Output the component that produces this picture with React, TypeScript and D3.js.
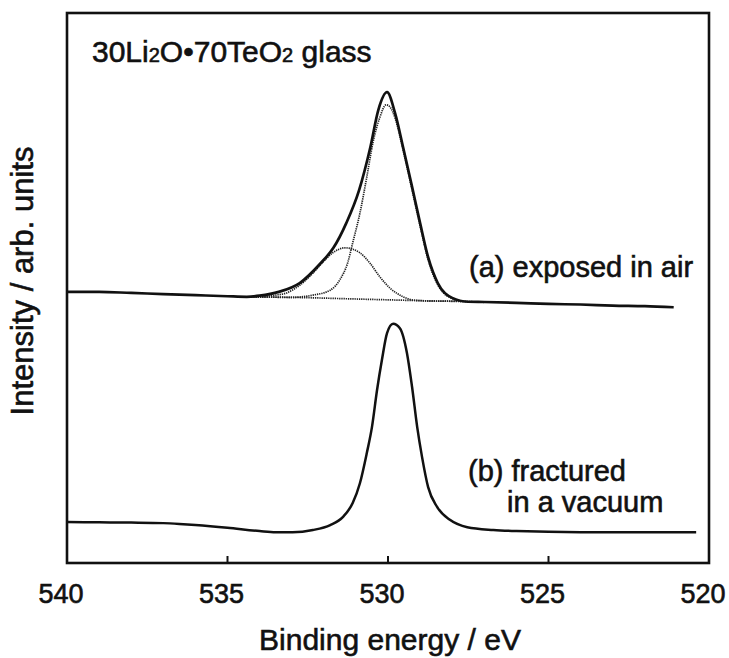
import React, { useEffect, useRef } from "react";
import * as d3 from "d3";

// binding energy (eV) / intensity (arb.)
const sumAirE = [540, 539, 538, 537, 536, 535, 534.4, 534, 533.4, 532.75, 532.1, 531.7, 531.3, 530.9, 530.55, 530.3, 530.03, 529.78, 529.53, 529.25, 529, 528.75, 528.45, 528, 527.5, 527, 526, 525, 524, 523, 522, 521.1];
const sumAirI = [49.3, 49.3, 49.1, 48.9, 48.7, 48.5, 48.4, 48.6, 49.3, 50.9, 54.5, 57.3, 61.8, 67.8, 75.6, 82.4, 85.6, 81.8, 75.6, 68.4, 61.8, 55.6, 50.9, 48.2, 47.5, 47.45, 47.3, 47.1, 47.0, 46.8, 46.7, 46.5];

const peak1E = [534.4, 533, 532.34, 531.8, 531.5, 531.25, 531.1, 530.875, 530.66, 530.47, 530.25, 530.06, 529.95, 529.78, 529.53, 529.25, 529, 528.75, 528.44, 527.97, 527.5, 527];
const peak1I = [48.4, 48.3, 48.7, 49.6, 51.5, 54.7, 58.2, 63.6, 70.2, 76.4, 81.1, 83.3, 83.0, 80.9, 75.1, 67.8, 61.3, 55.1, 50.5, 48.0, 47.5, 47.4];

const peak2E = [534.4, 534, 533.5, 533.16, 532.75, 532.34, 532.03, 531.72, 531.34, 530.875, 530.56, 530.25, 529.94, 529.53, 529.2, 528.5, 528, 527];
const peak2I = [48.4, 48.4, 48.7, 49.1, 50.5, 52.7, 54.7, 56.4, 57.3, 56.4, 54.5, 52.0, 50.0, 48.4, 47.8, 47.6, 47.6, 47.4];

const bgE = [534.4, 533, 531, 529, 527.5, 527];
const bgI = [48.4, 48.3, 48.0, 47.7, 47.5, 47.4];

const vacE = [540, 539, 538, 537, 536.5, 536, 535, 534, 533.5, 532.97, 532.34, 531.8, 531.4, 531.1, 530.875, 530.66, 530.5, 530.34, 530.19, 530.03, 529.84, 529.63, 529.41, 529.25, 529.09, 528.94, 528.75, 528.47, 528.06, 527.53, 526.72, 526, 524, 522, 520.4];
const vacI = [7.45, 7.4, 7.35, 7.25, 7.1, 6.9, 6.4, 5.8, 5.6, 5.6, 6.0, 6.9, 8.4, 10.9, 14.5, 20.0, 24.7, 31.5, 36.9, 41.8, 43.5, 42.7, 38.2, 32.0, 24.7, 19.3, 13.8, 10.2, 7.8, 6.5, 6.0, 5.8, 5.6, 5.6, 5.6];

const xTicks = [540, 535, 530, 525, 520];
const FONT = "'Liberation Sans', Arial, Helvetica, sans-serif";

const App = () => {
  const ref = useRef<SVGSVGElement | null>(null);

  useEffect(() => {
    if (!ref.current) return;
    const svg = d3.select(ref.current);
    svg.selectAll("*").remove();

    const x = d3.scaleLinear().domain([540, 520]).range([67, 709]);
    const y = d3.scaleLinear().domain([0, 100]).range([563, 13]);

    const line = d3
      .line<[number, number]>()
      .x(d => x(d[0]))
      .y(d => y(d[1]))
      .curve(d3.curveMonotoneX);

    const zip = (e: number[], v: number[]) => e.map((d, i) => [d, v[i]] as [number, number]);

    // frame
    svg
      .append("rect")
      .attr("x", x(540))
      .attr("y", y(100))
      .attr("width", x(520) - x(540))
      .attr("height", y(0) - y(100))
      .attr("fill", "none")
      .attr("stroke", "#111")
      .attr("stroke-width", 2.6);

    // inward ticks
    svg
      .selectAll("line.tick")
      .data(xTicks.slice(1, -1))
      .join("line")
      .attr("x1", d => x(d))
      .attr("x2", d => x(d))
      .attr("y1", y(0))
      .attr("y2", y(0) - 7)
      .attr("stroke", "#111")
      .attr("stroke-width", 2);

    const styleText = (sel: any, size: number) =>
      sel
        .style("font-family", FONT)
        .style("font-size", `${size}px`)
        .style("fill", "#111")
        .style("stroke", "#111")
        .style("stroke-width", 0.6);

    styleText(
      svg
        .selectAll("text.tl")
        .data(xTicks)
        .join("text")
        .attr("x", d => x(d) - 6)
        .attr("y", 603)
        .attr("text-anchor", "middle")
        .text(d => d),
      27
    );

    // fitted components (dotted)
    [zip(peak1E, peak1I), zip(peak2E, peak2I), zip(bgE, bgI)].forEach(s => {
      svg
        .append("path")
        .datum(s)
        .attr("fill", "none")
        .attr("stroke", "#222")
        .attr("stroke-width", 1.7)
        .attr("stroke-dasharray", "1.3 0.9")
        .attr("d", line);
    });

    // measured spectra
    svg
      .append("path")
      .datum(zip(sumAirE, sumAirI))
      .attr("fill", "none")
      .attr("stroke", "#111")
      .attr("stroke-width", 2.7)
      .attr("d", line);

    svg
      .append("path")
      .datum(zip(vacE, vacI))
      .attr("fill", "none")
      .attr("stroke", "#111")
      .attr("stroke-width", 2.5)
      .attr("d", line);

    const txt = (tx: number, ty: number, s: string, size = 29) =>
      styleText(svg.append("text").attr("x", tx).attr("y", ty).text(s), size);

    txt(469, 277, "(a) exposed in air");
    txt(468, 481, "(b) fractured");
    txt(507, 512, "in a vacuum");

    // title with subscripts
    const title = styleText(svg.append("text").attr("x", 92).attr("y", 62), 30);
    const parts: [string, boolean][] = [
      ["30Li", false],
      ["2", true],
      ["O", false],
      ["\u2022", false],
      ["70TeO", false],
      ["2", true],
      [" glass", false],
    ];
    parts.forEach(([s, sub]) => {
      title
        .append("tspan")
        .style("font-size", sub ? "20px" : "30px")
        .text(s);
    });

    // axis titles
    styleText(
      svg
        .append("text")
        .attr("x", 390)
        .attr("y", 650)
        .attr("text-anchor", "middle")
        .text("Binding energy / eV"),
      30
    );

    styleText(
      svg
        .append("text")
        .attr("transform", "translate(33,281) rotate(-90)")
        .attr("text-anchor", "middle")
        .text("Intensity / arb. units"),
      31
    );
  }, []);

  return (
    <svg
      ref={ref}
      width={729}
      height={658}
      style={{ position: "absolute", left: 0, top: 0, background: "#fff" }}
    />
  );
};

export default App;
